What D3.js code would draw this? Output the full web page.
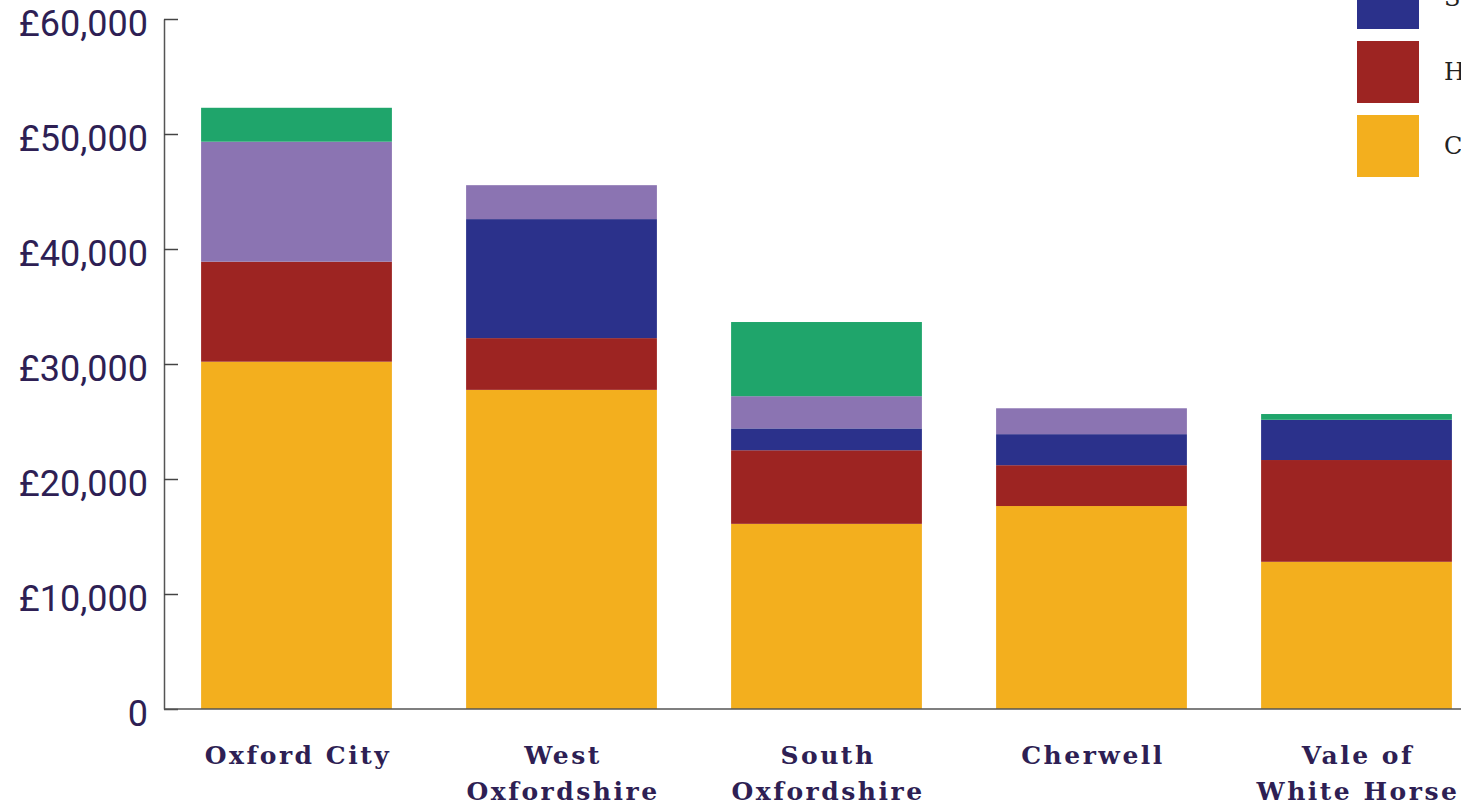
<!DOCTYPE html>
<html>
<head>
<meta charset="utf-8">
<script src="https://cdn.jsdelivr.net/npm/d3@7"></script>
<style>
  html, body { margin: 0; padding: 0; background: #fff; overflow: hidden; }
  svg { display: block; }
</style>
</head>
<body>
<svg id="chart"></svg>
<script>
// districts along the x axis
var categories = ["Oxford City", "West Oxfordshire", "South Oxfordshire", "Cherwell", "Vale of White Horse"];
var labelLines = [["Oxford City"], ["West", "Oxfordshire"], ["South", "Oxfordshire"], ["Cherwell"], ["Vale of", "White Horse"]];

// stacked series, bottom to top
var seriesNames = ["Council tax", "Housing", "Social care", "Planning", "Other"];
var councilTax = [30200, 27750, 16100, 17650, 12800];
var housing    = [8700, 4500, 6400, 3550, 8850];
var socialCare = [0, 10350, 1900, 2700, 3500];
var planning   = [10430, 2950, 2800, 2250, 0];
var other      = [2950, 0, 6450, 0, 500];

var yTicks = [0, 10000, 20000, 30000, 40000, 50000, 60000];
var colours = ["#F3AF1E", "#9D2422", "#2B318B", "#8B74B2", "#1FA56B"];

var width = 1461, height = 806;
var textColour = "#2E1F54";

var svg = d3.select("#chart")
    .attr("width", width)
    .attr("height", height)
    .attr("viewBox", [0, 0, width, height].join(" "));

// build rows for d3.stack
var cols = [councilTax, housing, socialCare, planning, other];
var rows = categories.map(function(c, i) {
    var r = { cat: c };
    seriesNames.forEach(function(s, j) { r[s] = cols[j][i]; });
    return r;
});

var stacked = d3.stack().keys(seriesNames)(rows);

var x = d3.scaleBand()
    .domain(categories)
    .range([164, 1489])
    .paddingInner(0.28)
    .paddingOuter(0.14);

var y = d3.scaleLinear()
    .domain([0, 60000])
    .range([709, 19]);

var colour = d3.scaleOrdinal().domain(seriesNames).range(colours);

// bars
svg.append("g")
    .selectAll("g")
    .data(stacked)
    .enter()
    .append("g")
    .attr("fill", (d) => colour(d.key))
    .selectAll("rect")
    .data((d) => d)
    .enter()
    .append("rect")
    .attr("x", (d) => x(d.data.cat))
    .attr("width", x.bandwidth())
    .attr("y", (d) => y(d[1]))
    .attr("height", (d) => y(d[0]) - y(d[1]));

// y axis, ticks pointing into the plot
var fmt = d3.format(",");
var yAxis = svg.append("g")
    .attr("transform", "translate(164,0)")
    .call(d3.axisLeft(y)
        .tickValues(yTicks)
        .tickSize(-14)
        .tickSizeOuter(0)
        .tickPadding(16)
        .tickFormat((d) => d === 0 ? "0" : "£" + fmt(d)));

yAxis.select(".domain").attr("stroke", "#555").attr("stroke-width", 1.5);
yAxis.selectAll(".tick line").attr("stroke", "#444").attr("stroke-width", 1.5);
yAxis.selectAll(".tick text")
    .attr("font-family", "Roboto, sans-serif")
    .attr("font-size", 36)
    .attr("dy", "0.45em")
    .attr("fill", textColour);

// x baseline
svg.append("line")
    .attr("x1", 164)
    .attr("x2", width)
    .attr("y1", y(0))
    .attr("y2", y(0))
    .attr("stroke", "#555")
    .attr("stroke-width", 1.5);

// category labels
var catLabels = svg.append("g")
    .selectAll("text")
    .data(categories)
    .enter()
    .append("text")
    .attr("y", 764)
    .attr("text-anchor", "middle")
    .attr("font-family", "'DejaVu Serif', serif")
    .attr("font-weight", "bold")
    .attr("font-size", 25)
    .attr("letter-spacing", 2.5)
    .attr("fill", textColour);

catLabels.each(function(d, i) {
    var t = d3.select(this);
    labelLines[i].forEach(function(line, k) {
        t.append("tspan")
            .attr("x", x(d) + x.bandwidth() / 2 + 1.5)
            .attr("dy", k === 0 ? 0 : 36)
            .text(line);
    });
});

// legend (top entries run off the top of the picture)
var legendNames = seriesNames.slice().reverse();
var legend = svg.append("g")
    .selectAll("g")
    .data(legendNames)
    .enter()
    .append("g")
    .attr("transform", (d, i) => `translate(1357, ${-181 + i * 74})`);

legend.append("rect")
    .attr("width", 62)
    .attr("height", 62)
    .attr("fill", (d) => colour(d));

legend.append("text")
    .text((d) => d)
    .attr("x", 87)
    .attr("y", 31)
    .attr("dy", "0.35em")
    .attr("font-family", "'DejaVu Serif', serif")
    .attr("font-size", 24)
    .attr("fill", "#222");
</script>
</body>
</html>
